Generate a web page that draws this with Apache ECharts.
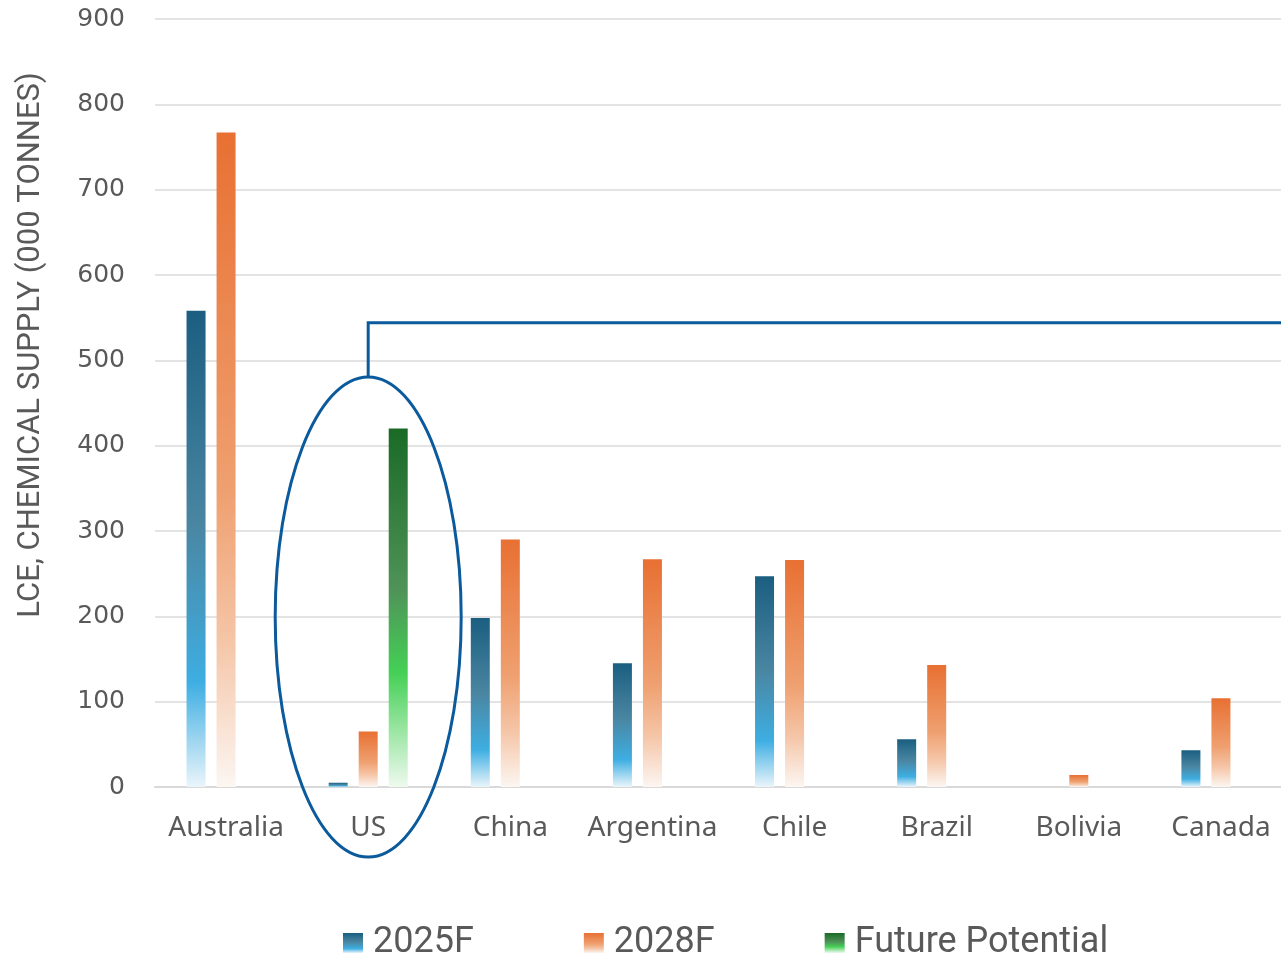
<!DOCTYPE html>
<html>
<head>
<meta charset="utf-8">
<script src="https://cdn.jsdelivr.net/npm/echarts@6/dist/echarts.min.js"></script>
<style>
  html, body { margin: 0; padding: 0; background: #ffffff; overflow: hidden; }
  /* plot runs a little past the right edge, like the original */
  #chart { width: 1292px; height: 955px; }
</style>
</head>
<body>
<div id="chart"></div>
<script>
const countries = ["Australia", "US", "China", "Argentina", "Chile", "Brazil", "Bolivia", "Canada"];
const supply2025 = [558, 5, 198, 145, 247, 56, "-", 43];
const supply2028 = [767, 65, 290, 267, 266, 143, 14, 104];
const futurePotential = ["-", 420, "-", "-", "-", "-", "-", "-"];
const yTicks = [0, 100, 200, 300, 400, 500, 600, 700, 800, 900];

// callout line level, in chart units
const calloutValue = 544;

const grad = (stops) => new echarts.graphic.LinearGradient(0, 0, 0, 1,
  stops.map(([offset, color]) => ({ offset, color })));

const blue = grad([[0, "#1b5e80"], [0.45, "#4a86a2"], [0.78, "#3eaee2"], [1, "#eaf5fb"]]);
const orange = grad([[0, "#e87032"], [0.55, "#efa070"], [0.78, "#f5c6a8"], [1, "#fcf6f2"]]);
const green = grad([[0, "#1a6a26"], [0.45, "#4f9358"], [0.68, "#44d055"], [1, "#eefaee"]]);

const chart = echarts.init(document.getElementById("chart"));

const option = {
  animation: false,
  grid: { left: 155, right: 0, top: 19, bottom: 168 },
  legend: {
    top: 920,
    left: 338,
    itemWidth: 20,
    itemHeight: 20,
    itemGap: 110,
    icon: "rect",
    textStyle: { fontFamily: "Roboto", fontSize: 36, color: "#595959", padding: [0, 0, 0, 5] },
    data: ["2025F", "2028F", "Future Potential"]
  },
  xAxis: {
    type: "category",
    data: countries,
    axisLine: { lineStyle: { color: "#d9d9d9", width: 2 } },
    axisTick: { show: false },
    axisLabel: { fontFamily: "Noto Sans", fontSize: 28, color: "#595959", margin: 27, interval: 0 }
  },
  yAxis: {
    type: "value",
    min: 0,
    max: 900,
    interval: 100,
    name: "LCE, CHEMICAL SUPPLY (000 TONNES)",
    nameLocation: "middle",
    nameGap: 108,
    nameTextStyle: { fontFamily: "Roboto", fontSize: 31, color: "#595959", padding: [0, 0, 0, 116] },
    axisLine: { show: false },
    axisTick: { show: false },
    axisLabel: {
      fontFamily: "DejaVu Sans", fontSize: 25, color: "#595959", margin: 30,
      formatter: (v) => yTicks.includes(v) ? String(v) : ""
    },
    splitLine: { lineStyle: { color: "#e3e3e3", width: 2 } }
  },
  series: [
    { name: "2025F", type: "bar", data: supply2025, barWidth: 19, barGap: "58%", itemStyle: { color: blue } },
    { name: "2028F", type: "bar", data: supply2028, barWidth: 19, barGap: "58%", itemStyle: { color: orange } },
    { name: "Future Potential", type: "bar", data: futurePotential, barWidth: 19, barGap: "58%", itemStyle: { color: green } }
  ]
};
chart.setOption(option);

// callout ellipse around the US group plus connector line
const usX = chart.convertToPixel({ xAxisIndex: 0 }, "US");
const lineY = chart.convertToPixel({ yAxisIndex: 0 }, calloutValue);
const zeroY = chart.convertToPixel({ yAxisIndex: 0 }, 0);
const ry = 240, rx = 93;
const cy = zeroY - 170;
chart.setOption({
  graphic: [
    {
      type: "ellipse",
      shape: { cx: usX, cy: cy, rx: rx, ry: ry },
      style: { fill: null, stroke: "#0b5a9c", lineWidth: 3 },
      z: 10
    },
    {
      type: "polyline",
      shape: { points: [[usX, cy - ry], [usX, lineY], [1292, lineY]] },
      style: { fill: null, stroke: "#0b5a9c", lineWidth: 3 },
      z: 10
    }
  ]
});

window.addEventListener("resize", () => chart.resize());
</script>
</body>
</html>
